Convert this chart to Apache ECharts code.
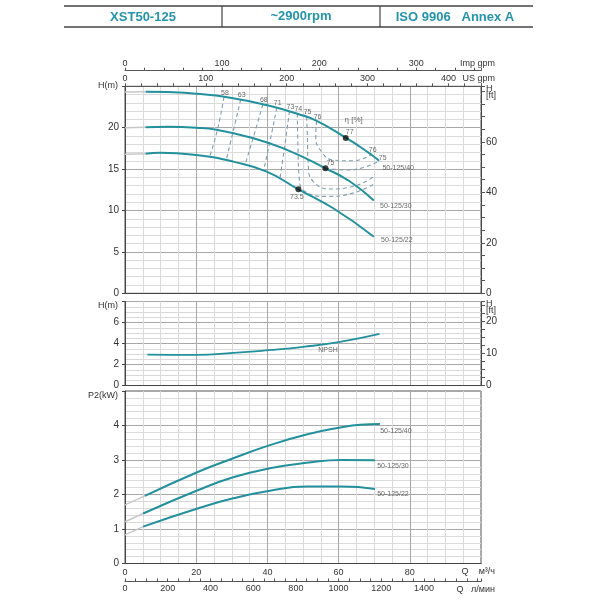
<!DOCTYPE html>
<html>
<head>
<meta charset="utf-8">
<script src="https://cdn.jsdelivr.net/npm/echarts@6/dist/echarts.min.js"></script>
<style>
html, body { margin: 0; padding: 0; background: #fff; }
#main { width: 600px; height: 600px; }
</style>
</head>
<body>
<div id="main"></div>
<script>
// Q in m3/h, H in m, P2 in kW
var curveNames = ['50-125/40', '50-125/30', '50-125/22'];

// head curves
var h40 = [[5.8,24.35],[12,24.3],[20,24.1],[30,23.6],[40,22.7],[49,21.6],[54,20.8],[62,18.8],[66,17.7],[69.3,16.7],[71.4,16.0]];
var h30 = [[5.8,20.05],[12,20.1],[20,20.0],[25.8,19.75],[35,18.85],[44.5,17.5],[56.3,15.1],[63.2,13.5],[69.9,11.2]];
var h22 = [[5.8,16.85],[9.8,16.98],[20,16.7],[30.4,15.9],[39.8,14.69],[48.7,12.56],[58.5,10.27],[69.9,6.84]];
// light grey run-in below the tested range
var h40Lead = [[0,24.3],[5.8,24.35]];
var h30Lead = [[0,20.0],[5.8,20.05]];
var h22Lead = [[0,16.8],[5.8,16.85]];

// best efficiency points
var bepPoints = [[62.0,18.76],[56.3,15.1],[48.7,12.56]];
var bepLabels = ['77', '75', '73.5'];

// efficiency contours (dashed)
var eff58 = [[27.8,23.7],[25.9,19.64],[23.7,16.42]];
var eff63 = [[32.5,23.4],[30.4,19.6],[28.4,16.05]];
var eff68 = [[38.7,22.8],[36.3,19.2],[33.7,15.5]];
var eff71 = [[42.6,22.4],[40.9,18.7],[38.9,14.8]];
var eff73 = [[46.2,22.0],[45.0,18.2],[43.5,13.8]];
var eff74 = [[48.4,21.7],[48.6,17.3],[48.9,14.1],[50.6,12.3],[56.6,11.7],[64,12.1],[69.9,13.2]];
var eff75 = [[51,21.3],[51.2,19.3],[51.5,15.3],[52.9,13.5],[57.6,12.6],[64,12.9],[69.9,14.1]];
var eff76 = [[53.8,20.8],[53.6,18.9],[55.2,17.1],[58.5,16.1],[64,16.0],[69.3,16.8]];
var eff75r = [[56.3,15.1],[62,14.9],[67,15.2],[71.4,16.0]];
var effLines = [eff58, eff63, eff68, eff71, eff73, eff74, eff75, eff76, eff75r];
var effTop = ['58', '63', '68', '71', '73', '74', '75', '76', ''];
var effEnd = ['', '', '', '', '', '', '', '76', '75'];

// NPSH
var npsh = [[6.3,2.95],[20,2.92],[30.4,3.1],[40.3,3.36],[50.1,3.68],[60.4,4.15],[71.5,4.91]];

// shaft power
var p40 = [[5.6,1.96],[20.6,2.66],[30.4,3.05],[40.7,3.43],[51.0,3.74],[60.9,3.95],[66.0,4.02],[71.6,4.04]];
var p30 = [[5.1,1.45],[20.6,2.13],[30.4,2.5],[40.7,2.76],[51.0,2.92],[60.9,3.0],[70.2,2.99]];
var p22 = [[5.1,1.07],[20.6,1.6],[30.4,1.89],[40.7,2.11],[51.0,2.23],[60.9,2.23],[70.2,2.16]];
var p40Lead = [[0,1.70],[5.6,1.96]];
var p30Lead = [[0,1.21],[5.1,1.45]];
var p22Lead = [[0,0.83],[5.1,1.07]];

var qMax = 100;
var teal = '#22909d';
var leadGrey = '#c8c8c8';
var dashCol = '#809fb0';
var font = 'Liberation Sans, Arial, sans-serif';
var majorGrid = '#a8a8a8';
var minorGrid = '#dadada';

var chart = echarts.init(document.getElementById('main'));

function qAxis(grid, showLabel) {
    return {
        type: 'value', gridIndex: grid, position: 'bottom', min: 0, max: qMax, interval: 20,
        axisLine: { onZero: false, lineStyle: { color: '#444' } },
        axisTick: { show: false },
        minorTick: { show: false, splitNumber: 4 },
        splitLine: { show: true, lineStyle: { color: majorGrid, width: 1 } },
        minorSplitLine: { show: true, lineStyle: { color: minorGrid, width: 1 } },
        axisLabel: {
            show: showLabel, fontSize: 9, color: '#333', fontFamily: font, margin: 5,
            formatter: function (v) { return v === qMax ? '' : v; }
        },
        nameMoveOverlap: false
    };
}

function unitAxis(grid, pos, max, step, labelStep, labelMax, offset, name, nameStyle) {
    return {
        type: 'value', gridIndex: grid, position: pos, offset: offset,
        min: 0, max: max, interval: step,
        axisLine: { show: true, onZero: false, lineStyle: { color: '#555' } },
        axisTick: { show: true, length: 3, inside: pos === 'bottom', lineStyle: { color: '#555' } },
        splitLine: { show: false },
        axisLabel: {
            fontSize: 9, color: '#333', fontFamily: font, margin: 3,
            formatter: function (v) { return (Math.abs(v % labelStep) < 1e-6 && v <= labelMax) ? v : ''; }
        },
        name: name, nameLocation: 'end', nameGap: 14, nameMoveOverlap: false,
        nameTextStyle: nameStyle
    };
}

function hAxis(grid, max, step, minorSplit, name, gap) {
    return {
        type: 'value', gridIndex: grid, position: 'left', min: 0, max: max, interval: step,
        axisLine: { show: true, onZero: false, lineStyle: { color: '#444' } },
        axisTick: { show: true, length: 3, lineStyle: { color: '#444' } },
        minorTick: { show: false, splitNumber: minorSplit },
        splitLine: { show: true, lineStyle: { color: majorGrid } },
        minorSplitLine: { show: true, lineStyle: { color: minorGrid } },
        axisLabel: {
            fontSize: 10, color: '#333', fontFamily: font, margin: 6,
            formatter: function (v) { return v === max ? '' : v; }
        },
        name: name, nameLocation: 'end', nameGap: gap, nameMoveOverlap: false,
        nameTextStyle: { fontSize: 9, color: '#333', fontFamily: font, align: 'right', verticalAlign: 'middle', padding: [0, 7, 0, 0] }
    };
}

function ftAxis(grid, maxM, step, labelStep, gap) {
    var maxFt = maxM / 0.3048;
    return {
        type: 'value', gridIndex: grid, position: 'right', min: 0, max: maxFt, interval: step,
        axisLine: { show: true, onZero: false, lineStyle: { color: '#444' } },
        axisTick: { show: true, length: 4, lineStyle: { color: '#555' } },
        splitLine: { show: false },
        axisLabel: {
            fontSize: 10, color: '#333', fontFamily: font, margin: 5,
            formatter: function (v) { return (Math.abs(v % labelStep) < 1e-6 && v < maxFt - 4) ? v : ''; }
        },
        name: 'H\n[ft]', nameLocation: 'end', nameGap: gap, nameMoveOverlap: false,
        nameTextStyle: { fontSize: 9, color: '#333', fontFamily: font, align: 'left', verticalAlign: 'top', lineHeight: 7, padding: [0, 0, 0, 5] }
    };
}

function curve(name, data, xi, yi, color, width, z) {
    return {
        name: name, type: 'line', xAxisIndex: xi, yAxisIndex: yi, data: data,
        smooth: true, symbol: 'none', silent: true, z: z || 3,
        lineStyle: { color: color, width: width }
    };
}

function dashCurve(data, xi, yi) {
    return {
        type: 'line', xAxisIndex: xi, yAxisIndex: yi, data: data,
        smooth: 0.5, symbol: 'none', silent: true, z: 2,
        lineStyle: { color: dashCol, width: 1.1, type: [4, 3] }
    };
}

// text placed on a point of a curve
function tags(points, texts, xi, yi, offsets, size) {
    var items = [];
    points.forEach(function (p, i) {
        if (!texts[i]) return;
        items.push({ value: p, label: { formatter: texts[i], offset: offsets[i] } });
    });
    return {
        type: 'scatter', xAxisIndex: xi, yAxisIndex: yi, symbolSize: 0, silent: true, z: 6,
        data: items,
        label: { show: true, position: 'inside', fontSize: size || 7, color: '#444', fontFamily: font }
    };
}

function last(a) { return a[a.length - 1]; }

var series = [
    curve('lead40', h40Lead, 0, 0, leadGrey, 1.5, 2),
    curve('lead30', h30Lead, 0, 0, leadGrey, 1.5, 2),
    curve('lead22', h22Lead, 0, 0, leadGrey, 1.5, 2),
    curve(curveNames[0], h40, 0, 0, teal, 2),
    curve(curveNames[1], h30, 0, 0, teal, 2),
    curve(curveNames[2], h22, 0, 0, teal, 2)
];
effLines.forEach(function (d) { series.push(dashCurve(d, 0, 0)); });
series.push(tags(effLines.map(function (d) { return d[0]; }), effTop, 0, 0,
    effLines.map(function () { return [1, -4.5]; })));
series.push(tags(effLines.map(last), effEnd, 0, 0,
    [null, null, null, null, null, null, null, [1, -4.5], [3.5, -3]]));
series.push({
    type: 'scatter', xAxisIndex: 0, yAxisIndex: 0, data: bepPoints, symbolSize: 6, z: 7, silent: true,
    itemStyle: { color: '#111' }
});
series.push(tags(bepPoints, bepLabels, 0, 0, [[4, -6], [5, -5], [-1.5, 8]], 7));
series.push(tags([bepPoints[0]], ['η [%]'], 0, 0, [[8, -18.5]], 8));
series.push(tags([last(h40), last(h30), last(h22)], curveNames, 0, 0,
    [[19, 7.5], [22, 5], [23, 3]], 7));

// NPSH
series.push(curve('NPSH', npsh, 1, 2, teal, 1.8));
series.push(tags([npsh[5]], ['NPSH'], 1, 2, [[-12, 8.5]], 7));

// P2
series.push(curve('plead40', p40Lead, 3, 4, leadGrey, 1.5, 2));
series.push(curve('plead30', p30Lead, 3, 4, leadGrey, 1.5, 2));
series.push(curve('plead22', p22Lead, 3, 4, leadGrey, 1.5, 2));
series.push(curve(curveNames[0], p40, 3, 4, teal, 2));
series.push(curve(curveNames[1], p30, 3, 4, teal, 2));
series.push(curve(curveNames[2], p22, 3, 4, teal, 2));
series.push(tags([last(p40), last(p30), last(p22)], curveNames, 3, 4,
    [[16, 6.6], [18, 5.4], [18, 5.3]], 7));

var topName = { fontSize: 9, color: '#333', fontFamily: font, align: 'right', verticalAlign: 'bottom', padding: [0, 0, 3, 0] };
var bottomName = { fontSize: 9, color: '#333', fontFamily: font, align: 'right', verticalAlign: 'top', padding: [4, 0, 0, 0] };

var mAxis = qAxis(2, true);
mAxis.name = 'Q    м³/ч';
mAxis.nameLocation = 'end';
mAxis.nameGap = 14;
mAxis.nameTextStyle = bottomName;

var option = {
    animation: false,
    backgroundColor: '#fff',
    textStyle: { fontFamily: font },
    grid: [
        { left: 125, top: 86.3, width: 356, height: 207, show: true, borderColor: '#555', borderWidth: 1 },
        { left: 125, top: 301.5, width: 356, height: 84, show: true, borderColor: '#555', borderWidth: 1 },
        { left: 125, top: 391, width: 356, height: 172.5, show: true, borderColor: '#555', borderWidth: 1 }
    ],
    xAxis: [
        qAxis(0, false),
        qAxis(1, false),
        unitAxis(0, 'top', qMax / 0.227125, 20, 100, 400, 0, 'US gpm', topName),
        mAxis,
        unitAxis(0, 'top', qMax / 0.272765, 20, 100, 300, 15.6, 'Imp gpm', topName),
        unitAxis(2, 'bottom', qMax * 1000 / 60, 50, 200, 1400, 18, 'Q   л/мин', bottomName)
    ],
    yAxis: [
        hAxis(0, 25, 5, 5, 'H(m)', 1),
        ftAxis(0, 25, 5, 20, 1),
        hAxis(1, 8, 2, 4, 'H(m)', -4),
        ftAxis(1, 8, 2.5, 10, 1),
        hAxis(2, 5, 1, 5, 'P2(kW)', -5)
    ],
    series: series,
    graphic: [
        { type: 'line', shape: { x1: 64, y1: 6, x2: 533, y2: 6 }, style: { stroke: '#444', lineWidth: 1.5 } },
        { type: 'line', shape: { x1: 64, y1: 27, x2: 533, y2: 27 }, style: { stroke: '#444', lineWidth: 1.5 } },
        { type: 'line', shape: { x1: 222, y1: 6, x2: 222, y2: 27 }, style: { stroke: '#444', lineWidth: 1.2 } },
        { type: 'line', shape: { x1: 380, y1: 6, x2: 380, y2: 27 }, style: { stroke: '#444', lineWidth: 1.2 } },
        { type: 'text', x: 143, y: 17, style: { text: 'XST50-125', align: 'center', verticalAlign: 'middle', fill: '#2494aa', fontSize: 13, fontWeight: 'bold', fontFamily: font } },
        { type: 'text', x: 301, y: 16, style: { text: '~2900rpm', align: 'center', verticalAlign: 'middle', fill: '#2494aa', fontSize: 13, fontWeight: 'bold', fontFamily: font } },
        { type: 'text', x: 455, y: 17, style: { text: 'ISO 9906   Annex A', align: 'center', verticalAlign: 'middle', fill: '#2494aa', fontSize: 13, fontWeight: 'bold', fontFamily: font } }
    ]
};

chart.setOption(option);
</script>
</body>
</html>
